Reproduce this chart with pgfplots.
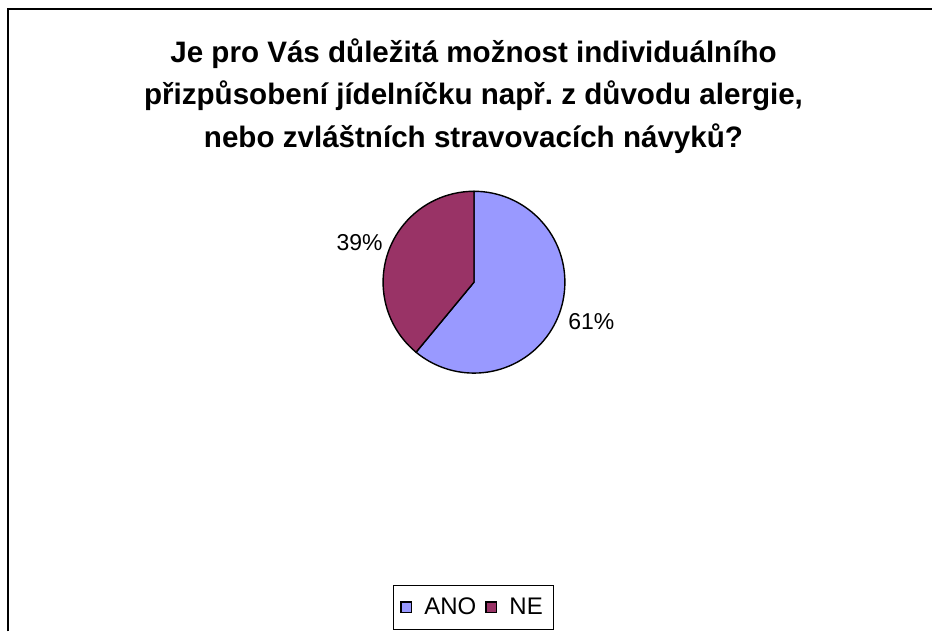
\documentclass[border=0pt]{standalone}
\usepackage{pgfplots}
\pgfplotsset{compat=1.18}
\usepackage{pgfplotstable}
\usepackage{fontspec}
\setmainfont{Liberation Sans}
\frenchspacing

\definecolor{ano}{HTML}{9999FF}
\definecolor{ne}{HTML}{993366}

% podíly odpovědí v procentech
\pgfplotstableread{
label value
ANO   61
NE    39
}\odpovedi
\pgfplotstablegetelem{0}{value}\of\odpovedi \let\vANO\pgfplotsretval
\pgfplotstablegetelem{1}{value}\of\odpovedi \let\vNE\pgfplotsretval

\begin{document}
\begin{tikzpicture}
\begin{axis}[
    hide axis,
    scale only axis,
    width=466.5pt, height=316pt,
    xmin=0, xmax=933, ymin=-632, ymax=0,
    clip=false,
    legend columns=2,
    legend image code/.code={\draw[#1] (0pt,-2.7pt) rectangle (5.4pt,2.7pt);},
    legend style={
        at={(axis cs:474,-608)}, anchor=center,
        draw=black, line width=0.5pt,
        font=\fontsize{12}{13}\selectfont,
        inner xsep=3.5pt, inner ysep=4pt,
        /tikz/every even column/.append style={column sep=2.5pt},
    },
]
% celá plocha obrázku
\path (axis cs:0,0) rectangle (axis cs:933,-632);

\addlegendimage{fill=ano, draw=black, line width=0.7pt}
\addlegendentry{\hspace{4pt}ANO}
\addlegendimage{fill=ne, draw=black, line width=0.7pt}
\addlegendentry{\hspace{4pt}NE}

% výseče (začátek nahoře, po směru hodinových ručiček)
\pgfmathsetmacro{\aEnd}{90-3.6*\vANO}
\pgfmathsetmacro{\bEnd}{\aEnd-3.6*\vNE}
\filldraw[fill=ano, draw=black, line width=0.7pt]
    (axis cs:474.5,-282.5) -- ++(90:45.5pt)
    arc[start angle=90, end angle=\aEnd, radius=45.5pt] -- cycle;
\filldraw[fill=ne, draw=black, line width=0.7pt]
    (axis cs:474.5,-282.5) -- ++(\aEnd:45.5pt)
    arc[start angle=\aEnd, end angle=\bEnd, radius=45.5pt] -- cycle;

% popisky
\node[font=\fontsize{11.5}{13}\selectfont] at (axis cs:360,-243) {\vNE\%};
\node[font=\fontsize{11.5}{13}\selectfont] at (axis cs:592,-322) {\vANO\%};

% nadpis
\node[align=center, font=\fontsize{14.8}{21.3}\selectfont\bfseries] at (axis cs:474,-96)
    {Je pro Vás důležitá možnost individuálního\\
     přizpůsobení jídelníčku např. z důvodu alergie,\\
     nebo zvláštních stravovacích návyků?};

% rámeček grafu
\draw[line width=1pt] (axis cs:8.5,-632) |- (axis cs:933,-9.5);
\end{axis}
\end{tikzpicture}
\end{document}
